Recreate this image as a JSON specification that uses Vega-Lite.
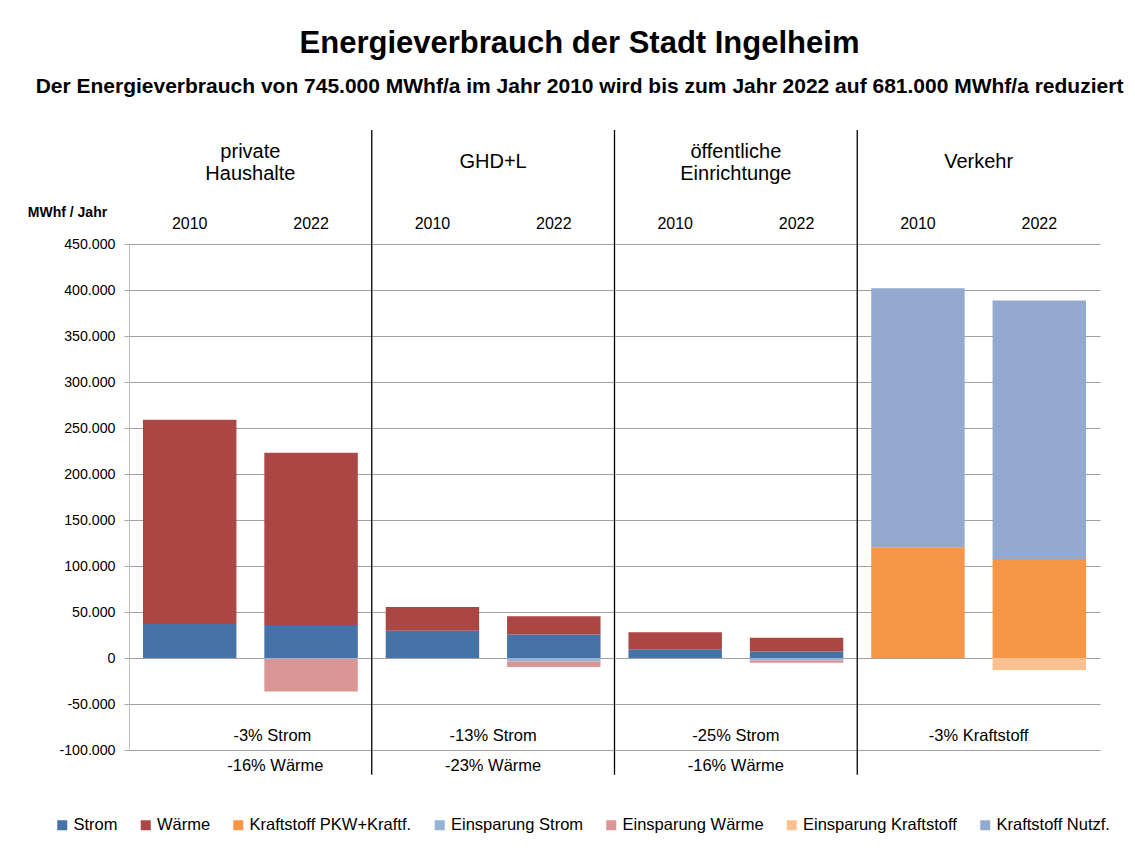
{
  "$schema": "https://vega.github.io/schema/vega-lite/v6.json",
  "autosize": {"type": "none"},
  "width": 971,
  "height": 506,
  "padding": {"left": 129, "top": 244, "right": 35, "bottom": 112},
  "background": "white",
  "title": {
    "text": "Energieverbrauch der Stadt Ingelheim",
    "subtitle": "Der Energieverbrauch von 745.000 MWhf/a im Jahr 2010 wird bis  zum Jahr 2022 auf 681.000 MWhf/a reduziert",
    "font": "Liberation Sans",
    "fontSize": 31,
    "fontWeight": "bold",
    "color": "black",
    "subtitleFont": "Liberation Sans",
    "subtitleFontSize": 21,
    "subtitleFontWeight": "bold",
    "subtitleColor": "black",
    "subtitlePadding": 16,
    "anchor": "middle",
    "dx": -35,
    "offset": 31
  },
  "config": {
    "view": {"stroke": null},
    "font": "Liberation Sans",
    "axis": {"labelFont": "Liberation Sans", "labelColor": "black"},
    "legend": {"labelFont": "Liberation Sans"}
  },
  "datasets": {
    "main": [
      {"key": "private Haushalte|2010", "type": "Strom", "value": 37000},
      {"key": "private Haushalte|2010", "type": "Wärme", "value": 222000},
      {"key": "private Haushalte|2022", "type": "Strom", "value": 36000},
      {"key": "private Haushalte|2022", "type": "Wärme", "value": 187000},
      {"key": "private Haushalte|2022", "type": "Einsparung Strom", "value": -1000},
      {"key": "private Haushalte|2022", "type": "Einsparung Wärme", "value": -35500},
      {"key": "GHD+L|2010", "type": "Strom", "value": 29500},
      {"key": "GHD+L|2010", "type": "Wärme", "value": 26000},
      {"key": "GHD+L|2022", "type": "Strom", "value": 25500},
      {"key": "GHD+L|2022", "type": "Wärme", "value": 20000},
      {"key": "GHD+L|2022", "type": "Einsparung Strom", "value": -3800},
      {"key": "GHD+L|2022", "type": "Einsparung Wärme", "value": -6000},
      {"key": "öffentliche Einrichtunge|2010", "type": "Strom", "value": 9500},
      {"key": "öffentliche Einrichtunge|2010", "type": "Wärme", "value": 18500},
      {"key": "öffentliche Einrichtunge|2022", "type": "Strom", "value": 7100},
      {"key": "öffentliche Einrichtunge|2022", "type": "Wärme", "value": 15000},
      {"key": "öffentliche Einrichtunge|2022", "type": "Einsparung Strom", "value": -2400},
      {"key": "öffentliche Einrichtunge|2022", "type": "Einsparung Wärme", "value": -2800},
      {"key": "Verkehr|2010", "type": "Kraftstoff PKW+Kraftf.", "value": 120500},
      {"key": "Verkehr|2010", "type": "Kraftstoff Nutzf.", "value": 281500},
      {"key": "Verkehr|2022", "type": "Kraftstoff PKW+Kraftf.", "value": 107500},
      {"key": "Verkehr|2022", "type": "Kraftstoff Nutzf.", "value": 281000},
      {"key": "Verkehr|2022", "type": "Einsparung Kraftstoff", "value": -13000}
    ],
    "sectors": [
      {"key": "private Haushalte|2010", "sector": "private Haushalte", "strom": "-3% Strom", "waerme": "-16% Wärme", "sep": false},
      {"key": "GHD+L|2010", "sector": "GHD+L", "strom": "-13% Strom", "waerme": "-23% Wärme", "sep": true},
      {"key": "öffentliche Einrichtunge|2010", "sector": "öffentliche Einrichtunge", "strom": "-25% Strom", "waerme": "-16% Wärme", "sep": true},
      {"key": "Verkehr|2010", "sector": "Verkehr", "strom": "-3% Kraftstoff", "waerme": "", "sep": true}
    ]
  },
  "layer": [
    {
      "data": {"name": "main"},
      "transform": [
        {"calculate": "indexof(['Strom', 'Wärme', 'Kraftstoff PKW+Kraftf.', 'Einsparung Strom', 'Einsparung Wärme', 'Einsparung Kraftstoff', 'Kraftstoff Nutzf.'], datum.type)", "as": "stackOrder"}
      ],
      "mark": {"type": "bar", "width": {"band": 0.77}},
      "encoding": {
        "x": {
          "field": "key",
          "type": "nominal",
          "title": null,
          "sort": null,
          "scale": {
            "domain": [
              "private Haushalte|2010", "private Haushalte|2022",
              "GHD+L|2010", "GHD+L|2022",
              "öffentliche Einrichtunge|2010", "öffentliche Einrichtunge|2022",
              "Verkehr|2010", "Verkehr|2022"
            ],
            "paddingInner": 0,
            "paddingOuter": 0
          },
          "axis": {
            "orient": "top",
            "labelExpr": "split(datum.value, '|')[1]",
            "labelAngle": 0,
            "labelFontSize": 16,
            "labelPadding": 13,
            "ticks": false,
            "domain": false,
            "grid": false
          }
        },
        "y": {
          "field": "value",
          "type": "quantitative",
          "stack": "zero",
          "scale": {"domain": [-100000, 450000], "nice": false, "zero": false},
          "axis": {
            "values": [-100000, -50000, 0, 50000, 100000, 150000, 200000, 250000, 300000, 350000, 400000, 450000],
            "labelExpr": "replace(replace(format(datum.value, ','), ',', '.'), '\u2212', '-')",
            "labelFontSize": 14.2,
            "labelPadding": 9,
            "tickSize": 5,
            "tickColor": "#A6A6A6",
            "domainColor": "#BFBFBF",
            "gridColor": "#A0A0A0",
            "grid": true,
            "title": "MWhf / Jahr",
            "titleAngle": 0,
            "titleFontSize": 14,
            "titleFontWeight": "bold",
            "titleColor": "black",
            "titleAlign": "center",
            "titleBaseline": "middle",
            "titleX": -62,
            "titleY": -32
          }
        },
        "order": {"field": "stackOrder", "type": "quantitative", "sort": "ascending"},
        "color": {
          "field": "type",
          "type": "nominal",
          "sort": ["Strom", "Wärme", "Kraftstoff PKW+Kraftf.", "Einsparung Strom", "Einsparung Wärme", "Einsparung Kraftstoff", "Kraftstoff Nutzf."],
          "scale": {
            "domain": ["Strom", "Wärme", "Kraftstoff PKW+Kraftf.", "Einsparung Strom", "Einsparung Wärme", "Einsparung Kraftstoff", "Kraftstoff Nutzf."],
            "range": ["#4572A7", "#AA4643", "#F79646", "#95B3D7", "#DA9694", "#FAC090", "#94A9CF"]
          },
          "legend": {
            "title": null,
            "orient": "none",
            "legendX": -75,
            "legendY": 573,
            "direction": "horizontal",
            "columns": 7,
            "gridAlign": "none",
            "columnPadding": 19.5,
            "symbolType": "square",
            "symbolSize": 100,
            "symbolStrokeWidth": 0,
            "labelFontSize": 16.5,
            "labelLimit": 400,
            "labelColor": "black",
            "labelOffset": 3
          }
        }
      }
    },
    {
      "data": {"name": "sectors"},
      "transform": [{"filter": "datum.sep"}],
      "mark": {"type": "rule", "color": "black", "strokeWidth": 1.3},
      "encoding": {
        "x": {"field": "key", "type": "nominal", "bandPosition": 0, "title": null},
        "y": {"datum": 574000, "type": "quantitative"},
        "y2": {"datum": -127000}
      }
    },
    {
      "data": {"name": "sectors"},
      "transform": [{"filter": "indexof(datum.sector, ' ') >= 0"}],
      "mark": {"type": "text", "fontSize": 20, "lineBreak": " ", "baseline": "middle", "align": "center", "color": "black", "lineHeight": 22},
      "encoding": {
        "x": {"field": "key", "type": "nominal", "bandPosition": 1, "title": null},
        "y": {"datum": 550500, "type": "quantitative"},
        "text": {"field": "sector"}
      }
    },
    {
      "data": {"name": "sectors"},
      "transform": [{"filter": "indexof(datum.sector, ' ') < 0"}],
      "mark": {"type": "text", "fontSize": 20, "baseline": "middle", "align": "center", "color": "black"},
      "encoding": {
        "x": {"field": "key", "type": "nominal", "bandPosition": 1, "title": null},
        "y": {"datum": 539000, "type": "quantitative"},
        "text": {"field": "sector"}
      }
    },
    {
      "data": {"name": "sectors"},
      "transform": [{"filter": "datum.sep"}],
      "mark": {"type": "text", "fontSize": 16.5, "baseline": "middle", "align": "center", "color": "black"},
      "encoding": {
        "x": {"field": "key", "type": "nominal", "bandPosition": 1, "title": null},
        "y": {"datum": -85000, "type": "quantitative"},
        "text": {"field": "strom"}
      }
    },
    {
      "data": {"name": "sectors"},
      "transform": [{"filter": "datum.sep"}],
      "mark": {"type": "text", "fontSize": 16.5, "baseline": "middle", "align": "center", "color": "black"},
      "encoding": {
        "x": {"field": "key", "type": "nominal", "bandPosition": 1, "title": null},
        "y": {"datum": -117500, "type": "quantitative"},
        "text": {"field": "waerme"}
      }
    },
    {
      "data": {"name": "sectors"},
      "transform": [{"filter": "!datum.sep"}],
      "mark": {"type": "text", "fontSize": 16.5, "baseline": "middle", "align": "center", "color": "black", "dx": 22},
      "encoding": {
        "x": {"field": "key", "type": "nominal", "bandPosition": 1, "title": null},
        "y": {"datum": -85000, "type": "quantitative"},
        "text": {"field": "strom"}
      }
    },
    {
      "data": {"name": "sectors"},
      "transform": [{"filter": "!datum.sep"}],
      "mark": {"type": "text", "fontSize": 16.5, "baseline": "middle", "align": "center", "color": "black", "dx": 25},
      "encoding": {
        "x": {"field": "key", "type": "nominal", "bandPosition": 1, "title": null},
        "y": {"datum": -117500, "type": "quantitative"},
        "text": {"field": "waerme"}
      }
    }
  ]
}
